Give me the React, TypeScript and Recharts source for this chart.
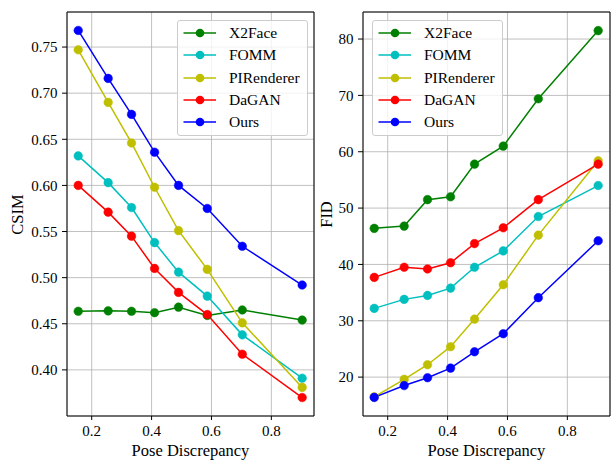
import React from 'react';
import { LineChart, Line, XAxis, YAxis, CartesianGrid, ReferenceArea } from 'recharts';

// pose discrepancy bins (x positions shared by both panels)
const poseX = [0.155, 0.255, 0.333, 0.41, 0.49, 0.586, 0.703, 0.903];

// CSIM panel
const x2faceCsim = [0.4635, 0.464, 0.4635, 0.462, 0.468, 0.459, 0.465, 0.454];
const fommCsim = [0.632, 0.603, 0.576, 0.538, 0.506, 0.48, 0.438, 0.391];
const pirCsim = [0.747, 0.69, 0.646, 0.598, 0.551, 0.509, 0.451, 0.381];
const daganCsim = [0.6, 0.571, 0.545, 0.51, 0.484, 0.46, 0.417, 0.37];
const oursCsim = [0.768, 0.716, 0.677, 0.636, 0.6, 0.575, 0.534, 0.492];

// FID panel
const x2faceFid = [46.4, 46.8, 51.5, 52.0, 57.8, 61.0, 69.4, 81.5];
const fommFid = [32.2, 33.8, 34.5, 35.8, 39.5, 42.4, 48.5, 54.0];
const pirFid = [16.5, 19.6, 22.2, 25.4, 30.3, 36.4, 45.2, 58.4];
const daganFid = [37.7, 39.5, 39.2, 40.3, 43.7, 46.5, 51.5, 57.8];
const oursFid = [16.4, 18.5, 19.9, 21.6, 24.5, 27.7, 34.1, 44.2];

const xTicks = [0.2, 0.4, 0.6, 0.8];
const csimTicks = [0.4, 0.45, 0.5, 0.55, 0.6, 0.65, 0.7, 0.75];
const fidTicks = [20, 30, 40, 50, 60, 70, 80];

const SERIES = [
  { key: 'X2Face', color: '#008000' },
  { key: 'FOMM', color: '#00bfbf' },
  { key: 'PIRenderer', color: '#bfbf00' },
  { key: 'DaGAN', color: '#ff0000' },
  { key: 'Ours', color: '#0000ff' },
];

const FONT = '"Liberation Serif", "Times New Roman", serif';
const X_DOMAIN: [number, number] = [0.1175, 0.9425];

const csimRows = poseX.map((x, i) => ({
  x,
  X2Face: x2faceCsim[i],
  FOMM: fommCsim[i],
  PIRenderer: pirCsim[i],
  DaGAN: daganCsim[i],
  Ours: oursCsim[i],
}));

const fidRows = poseX.map((x, i) => ({
  x,
  X2Face: x2faceFid[i],
  FOMM: fommFid[i],
  PIRenderer: pirFid[i],
  DaGAN: daganFid[i],
  Ours: oursFid[i],
}));

// matplotlib-style legend box, placed over the plot
const LegendBox = ({ left, top }: { left: number; top: number }) => (
  <div
    style={{
      position: 'absolute',
      left,
      top,
      width: 129,
      height: 114,
      background: 'rgba(255,255,255,0.8)',
      border: '1px solid #cccccc',
      borderRadius: 3,
      fontFamily: FONT,
      fontSize: 15.5,
      color: '#000',
    }}
  >
    {SERIES.map((s, i) => (
      <div
        key={s.key}
        style={{ position: 'absolute', left: 0, top: 1 + i * 22.3, height: 22, display: 'flex', alignItems: 'center' }}
      >
        <svg width={48} height={22} style={{ display: 'block' }}>
          <line x1={5.5} y1={11} x2={38} y2={11} stroke={s.color} strokeWidth={1.5} />
          <circle cx={22} cy={11} r={4.3} fill={s.color} />
        </svg>
        <span style={{ marginLeft: 3, lineHeight: '22px' }}>{s.key}</span>
      </div>
    ))}
  </div>
);

interface PanelProps {
  rows: any[];
  yDomain: [number, number];
  yTicks: number[];
  yFormat: (v: number) => string;
  yLabel: string;
  yLabelX: number;
  width: number;
  rightMargin: number;
}

const tickStyle = { fill: '#000', fontSize: 15, fontFamily: FONT };

const Panel: React.FC<PanelProps> = ({ rows, yDomain, yTicks, yFormat, yLabel, yLabelX, width, rightMargin }) => (
  <LineChart
    width={width}
    height={460}
    data={rows}
    margin={{ top: 12, right: rightMargin, bottom: 0, left: 0 }}
    style={{ fontFamily: FONT }}
  >
    <CartesianGrid stroke="#b0b0b0" strokeWidth={0.8} />
    <XAxis
      dataKey="x"
      type="number"
      domain={X_DOMAIN}
      allowDataOverflow
      ticks={xTicks}
      tickFormatter={(v: number) => v.toFixed(1)}
      height={44}
      axisLine={false}
      tickSize={4}
      tickMargin={5.5}
      tickLine={{ stroke: '#000' }}
      tick={tickStyle}
      label={{
        content: () => (
          <text x={67 + 123.5} y={456} textAnchor="middle" fontSize={16.5} fontFamily={FONT} fill="#000">
            Pose Discrepancy
          </text>
        ),
      }}
    />
    <YAxis
      type="number"
      domain={yDomain}
      allowDataOverflow
      ticks={yTicks}
      tickFormatter={yFormat}
      width={67}
      axisLine={false}
      tickSize={5}
      tickMargin={4.5}
      tickLine={{ stroke: '#000' }}
      tick={tickStyle}
      label={{
        content: () => (
          <text
            x={yLabelX}
            y={214.5}
            transform={`rotate(-90 ${yLabelX} 214.5)`}
            textAnchor="middle"
            fontSize={16.5}
            fontFamily={FONT}
            fill="#000"
          >
            {yLabel}
          </text>
        ),
      }}
    />
    {SERIES.map((s) => (
      <Line
        key={s.key}
        dataKey={s.key}
        stroke={s.color}
        strokeWidth={1.5}
        dot={{ r: 4.3, fill: s.color, stroke: s.color, strokeWidth: 0.5 }}
        activeDot={false}
        isAnimationActive={false}
      />
    ))}
    <ReferenceArea
      x1={X_DOMAIN[0]}
      x2={X_DOMAIN[1]}
      y1={yDomain[0]}
      y2={yDomain[1]}
      fill="none"
      fillOpacity={0}
      stroke="#000"
      strokeWidth={1}
    />
  </LineChart>
);

export default function App() {
  return (
    <div style={{ position: 'absolute', left: 0, top: 0, width: 611, height: 460, background: '#fff', fontFamily: FONT }}>
      <div style={{ position: 'absolute', left: 0, top: 0 }}>
        <Panel
          rows={csimRows}
          yDomain={[0.35, 0.788]}
          yTicks={csimTicks}
          yFormat={(v) => v.toFixed(2)}
          yLabel="CSIM"
          yLabelX={23}
          width={320}
          rightMargin={6}
        />
      </div>
      <div style={{ position: 'absolute', left: 296, top: 0 }}>
        <Panel
          rows={fidRows}
          yDomain={[13.1, 84.8]}
          yTicks={fidTicks}
          yFormat={(v) => String(v)}
          yLabel="FID"
          yLabelX={36}
          width={315}
          rightMargin={1}
        />
      </div>
      <LegendBox left={177} top={20} />
      <LegendBox left={372} top={20} />
    </div>
  );
}
